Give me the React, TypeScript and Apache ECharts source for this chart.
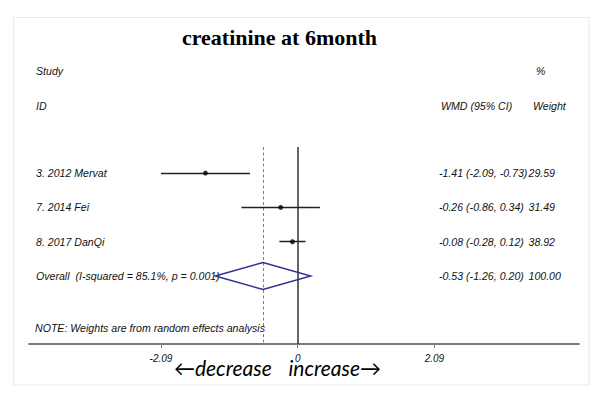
import React, { useEffect, useRef } from "react";
import * as echarts from "echarts";

// ---- data ----
const studies = ["3. 2012 Mervat", "7. 2014 Fei", "8. 2017 DanQi"];
const estimates = [-1.41, -0.26, -0.08];
const lowerCI = [-2.09, -0.86, -0.28];
const upperCI = [-0.73, 0.34, 0.12];
const weights = [29.59, 31.49, 38.92];
const studyRows = [1, 2, 3];

const overallLabel = "Overall  (I-squared = 85.1%, p = 0.001)";
const overallEstimate = -0.53;
const overallLower = -1.26;
const overallUpper = 0.2;
const overallWeight = 100.0;
const overallRow = 4;

const tickValues = [-2.09, 0, 2.09];

const FONT = "Liberation Sans";
const fmt = (v: number) => v.toFixed(2);

export default function App() {
  const ref = useRef<HTMLDivElement>(null);
  useEffect(() => {
    if (!ref.current) return;
    const chart = echarts.init(ref.current, undefined, { renderer: "svg" });

    const rowTexts = [
      ...studies.map((s, i) => ({
        row: studyRows[i],
        label: s,
        ci: `${fmt(estimates[i])} (${fmt(lowerCI[i])}, ${fmt(upperCI[i])})`,
        w: fmt(weights[i]),
      })),
      {
        row: overallRow,
        label: overallLabel,
        ci: `${fmt(overallEstimate)} (${fmt(overallLower)}, ${fmt(overallUpper)})`,
        w: fmt(overallWeight),
      },
    ];

    const txtStyle = (text: string, align: string = "left") => ({
      text,
      fontFamily: FONT,
      fontStyle: "italic",
      fontSize: 10.6,
      fill: "#111",
      align,
      verticalAlign: "middle",
    });

    chart.setOption({
      animation: false,
      backgroundColor: "#ffffff",
      grid: { left: 29, right: 21, top: 147, bottom: 54 },
      xAxis: {
        type: "value",
        min: -4.108,
        max: 4.301,
        splitLine: { show: false },
        axisLine: { show: true, onZero: false, lineStyle: { color: "#7a7a7a", width: 1.8 } },
        axisTick: {
          show: true,
          length: 4,
          customValues: tickValues,
          lineStyle: { color: "#7a7a7a", width: 1 },
        },
        axisLabel: {
          customValues: tickValues,
          formatter: (v: number) => (v === 0 ? "0" : v.toFixed(2)),
          fontFamily: FONT,
          fontStyle: "italic",
          fontSize: 10,
          color: "#111",
          margin: 9,
        },
      },
      yAxis: {
        type: "value",
        inverse: true,
        min: 0.24,
        max: 5.98,
        show: false,
      },
      series: [
        {
          type: "lines",
          coordinateSystem: "cartesian2d",
          silent: true,
          lineStyle: { color: "#333333", width: 1.5, opacity: 1 },
          data: [{ coords: [[0, 0.24], [0, 5.98]] }],
          z: 2,
        },
        {
          type: "lines",
          coordinateSystem: "cartesian2d",
          silent: true,
          lineStyle: { color: "#d05a5a", width: 1, type: [3, 2.5], opacity: 1 },
          data: [{ coords: [[overallEstimate, 0.24], [overallEstimate, 5.98]] }],
          z: 2,
        },
        {
          type: "lines",
          coordinateSystem: "cartesian2d",
          silent: true,
          lineStyle: { color: "#222222", width: 1.3, opacity: 1 },
          data: studies.map((_, i) => ({
            coords: [
              [lowerCI[i], studyRows[i]],
              [upperCI[i], studyRows[i]],
            ],
          })),
          z: 3,
        },
        {
          type: "scatter",
          symbol: "circle",
          symbolSize: 5,
          itemStyle: { color: "#000000" },
          data: studies.map((_, i) => [estimates[i], studyRows[i]]),
          z: 4,
        },
        {
          type: "custom",
          data: [[overallEstimate, overallRow, overallLower, overallUpper]],
          renderItem: (params: any, api: any) => {
            const c = api.coord([api.value(0), api.value(1)]);
            const l = api.coord([api.value(2), api.value(1)]);
            const r = api.coord([api.value(3), api.value(1)]);
            const h = 13.5;
            return {
              type: "polygon",
              shape: {
                points: [
                  [l[0], c[1]],
                  [c[0], c[1] - h],
                  [r[0], c[1]],
                  [c[0], c[1] + h],
                ],
              },
              style: { fill: "none", stroke: "#2e318f", lineWidth: 1.4 },
              z2: 10,
            };
          },
          z: 5,
        },
        {
          type: "custom",
          data: rowTexts.map((r) => [0, r.row]),
          renderItem: (params: any, api: any) => {
            const rt = rowTexts[params.dataIndex];
            const y = api.coord([0, api.value(1)])[1];
            return {
              type: "group",
              children: [
                { type: "text", x: 36, y, style: txtStyle(rt.label) },
                { type: "text", x: 439, y, style: txtStyle(rt.ci) },
                { type: "text", x: 528.5, y, style: txtStyle(rt.w) },
              ],
            };
          },
          z: 1,
        },
      ],
      graphic: [
        {
          type: "rect",
          shape: { x: 13.5, y: 17.5, width: 575.5, height: 367.5 },
          style: { fill: "none", stroke: "#e4eeee", lineWidth: 1.2 },
          silent: true,
        },
        {
          type: "text",
          x: 279.5,
          y: 37,
          style: {
            text: "creatinine at 6month",
            fontFamily: "Liberation Serif",
            fontWeight: "bold",
            fontSize: 22,
            fill: "#000",
            align: "center",
            verticalAlign: "middle",
          },
        },
        { type: "text", x: 36, y: 71, style: txtStyle("Study") },
        { type: "text", x: 36, y: 106, style: txtStyle("ID") },
        { type: "text", x: 536, y: 71, style: txtStyle("%") },
        { type: "text", x: 441, y: 106, style: txtStyle("WMD (95% CI)") },
        { type: "text", x: 533, y: 106, style: txtStyle("Weight") },
        {
          type: "text",
          x: 35,
          y: 328,
          style: txtStyle("NOTE: Weights are from random effects analysis"),
        },
        {
          type: "text",
          x: 174,
          y: 367,
          style: {
            text: "←decrease",
            fontFamily: "Lato",
            fontStyle: "italic",
            fontSize: 21,
            fill: "#000",
            align: "left",
            verticalAlign: "middle",
          },
        },
        {
          type: "text",
          x: 381,
          y: 367,
          style: {
            text: "increase→",
            fontFamily: "Lato",
            fontStyle: "italic",
            fontSize: 21,
            fill: "#000",
            align: "right",
            verticalAlign: "middle",
          },
        },
      ],
    });

    return () => chart.dispose();
  }, []);

  return (
    <div
      ref={ref}
      style={{ position: "fixed", left: 0, top: 0, width: 600, height: 398, background: "#fff" }}
    />
  );
}
